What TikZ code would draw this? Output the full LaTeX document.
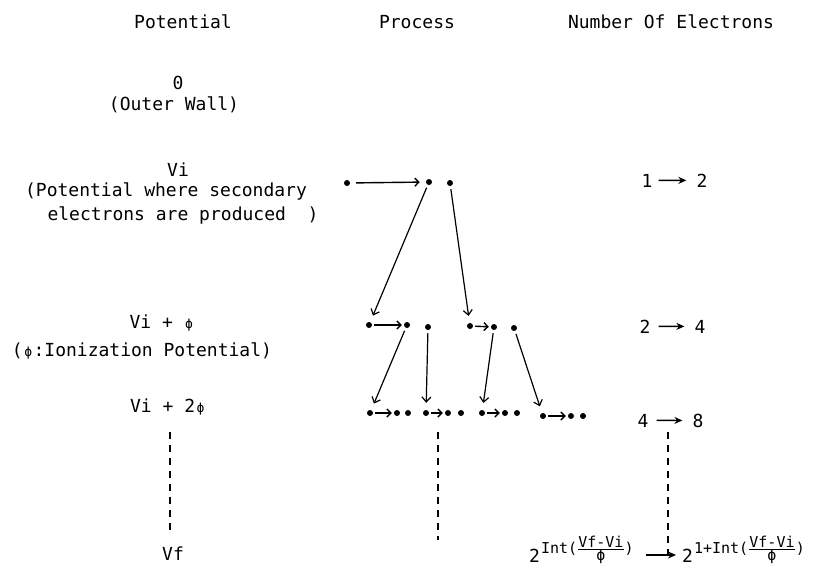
\documentclass[tikz,border=0pt]{standalone}
\usepackage{fontspec}
\setmainfont{DejaVu Sans Mono}
\usetikzlibrary{arrows.meta}
\newcommand\phis{\makebox[10.8pt]{\fontsize{13}{13}\selectfont ϕ}}
\newcommand\myfr[2]{$\frac{\hbox{#1}}{\hbox{#2}}$}
\begin{document}
\begin{tikzpicture}[x=1pt,y=-1pt,
  every node/.style={font=\fontsize{18}{20}\selectfont, inner sep=0pt, anchor=base},
  dot/.style={circle, fill=black, inner sep=0pt, minimum size=6pt, anchor=center},
  rowarr/.style={line width=1.4pt, -{Straight Barb[length=4pt,width=8pt]}, shorten <=2pt, shorten >=2pt},
  diag/.style={line width=1.2pt, -{Straight Barb[length=5pt,width=9pt]}, shorten <=3pt, shorten >=7pt},
  numarr/.style={line width=1.4pt, -{Stealth[length=8pt,width=7pt]}},
  dashline/.style={line width=1.4pt, dash pattern=on 7pt off 6pt}]
\fill[white] (0,0) rectangle (835,570);
\useasboundingbox (0,0) rectangle (835,570);

% headers
\node (hpot) at (183,28) {Potential};
\node (hproc) at (417,28) {Process};
\node (hnum) at (671,28) {Number Of Electrons};

% potential column
\node (p0) at (178,89) {0};
\node (p0b) at (174,110) {(Outer Wall)};
\node (pvi) at (178,176) {Vi};
\node (pvib) at (166,196) {(Potential where secondary};
\node (pvic) at (183,220) {electrons are produced\ \ )};
\node (pv1) at (162,328) {Vi + \phis};
\node (pv1b) at (142,356) {(\phis:Ionization Potential)};
\node (pv2) at (168,412) {Vi + 2\phis};
\node (pvf) at (173,560) {Vf};
\coordinate (ld1) at (170,432);
\coordinate (ld2) at (170,530);
\draw[dashline] (ld1) -- (ld2);

% process row 1
\node[dot] (r1a) at (347,183) {};
\node[dot] (r1b) at (429,182) {};
\node[dot] (r1c) at (450,183) {};
\draw[rowarr, shorten <=6pt, shorten >=6pt] (r1a) -- (r1b);

% row 2
\node[dot] (r2a) at (369,325) {};
\node[dot] (r2b) at (407,325) {};
\node[dot] (r2c) at (428,327) {};
\node[dot] (r2d) at (470,326) {};
\node[dot] (r2e) at (494,327) {};
\node[dot] (r2f) at (514,328) {};
\draw[rowarr] (r2a) -- (r2b);
\draw[rowarr] (r2d) -- (r2e);
\draw[diag] (r1b) -- (r2a);
\draw[diag] (r1c) -- (r2d);

% row 3
\node[dot] (s1a) at (370,413) {};
\node[dot] (s1b) at (397,413) {};
\node[dot] (s1c) at (408,413) {};
\node[dot] (s2a) at (426,413) {};
\node[dot] (s2b) at (448,413) {};
\node[dot] (s2c) at (461,413) {};
\node[dot] (s3a) at (482,413) {};
\node[dot] (s3b) at (505,413) {};
\node[dot] (s3c) at (517,413) {};
\node[dot] (s4a) at (543,416) {};
\node[dot] (s4b) at (571,416) {};
\node[dot] (s4c) at (583,416) {};
\draw[rowarr] (s1a) -- (s1b);
\draw[rowarr] (s2a) -- (s2b);
\draw[rowarr] (s3a) -- (s3b);
\draw[rowarr] (s4a) -- (s4b);
\draw[diag] (r2b) -- (s1a);
\draw[diag] (r2c) -- (s2a);
\draw[diag] (r2e) -- (s3a);
\draw[diag] (r2f) -- (s4a);
\coordinate (pd1) at (438,432);
\coordinate (pd2) at (438,540);
\draw[dashline] (pd1) -- (pd2);

% number column
\node (n1a) at (647,187) {1};
\node (n1b) at (702,187) {2};
\draw[numarr, shorten <=6pt, shorten >=10pt] (n1a) -- (n1b);
\node (n2a) at (645,333) {2};
\node (n2b) at (700,333) {4};
\draw[numarr, shorten <=8pt, shorten >=10pt] (n2a) -- (n2b);
\node (n3a) at (643,427) {4};
\node (n3b) at (698,427) {8};
\draw[numarr, shorten <=8pt, shorten >=10pt] (n3a) -- (n3b);

% bottom formula
\node[anchor=base west] (f1) at (529,562) {2\hspace{1pt}\raisebox{9pt}{\fontsize{15}{15}\selectfont Int(\myfr{Vf-Vi}{ϕ})}};
\node[anchor=base west] (f2) at (682,562) {2\hspace{1pt}\raisebox{9pt}{\fontsize{15}{15}\selectfont 1+Int(\myfr{Vf-Vi}{ϕ})}};
\coordinate (ay) at (0,555);
\draw[numarr, shorten <=12pt, shorten >=6pt] (f1.east |- ay) -- (f2.west |- ay);
\coordinate (rd1) at (668,432);
\draw[dashline] (rd1) -- (rd1 |- ay);
\end{tikzpicture}
\end{document}
